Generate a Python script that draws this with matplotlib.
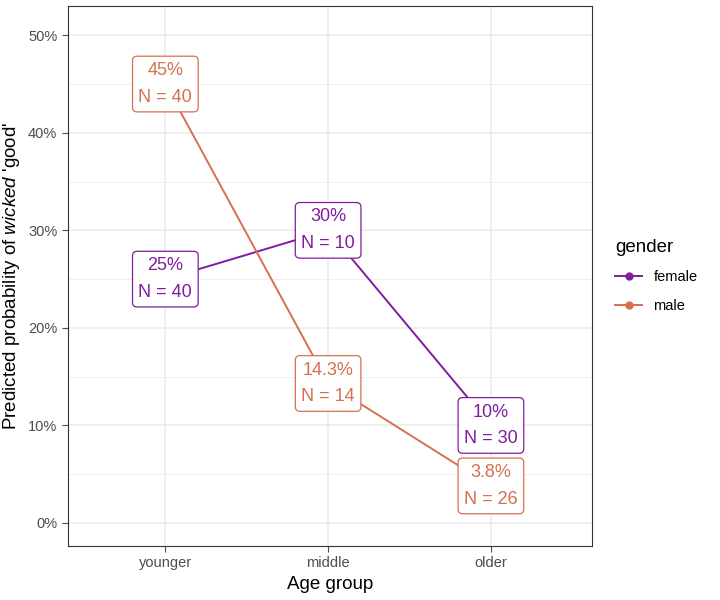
import matplotlib.pyplot as plt
from matplotlib.ticker import FuncFormatter, MultipleLocator

plt.rcParams['font.family'] = ['Liberation Sans', 'DejaVu Sans']
plt.rcParams['mathtext.fontset'] = 'custom'
plt.rcParams['mathtext.rm'] = 'Liberation Sans'
plt.rcParams['mathtext.it'] = 'Liberation Sans:italic'

age_groups = ['younger', 'middle', 'older']
female_prob = [0.25, 0.30, 0.10]
female_n = [40, 10, 30]
female_pct = ['25%', '30%', '10%']
male_prob = [0.45, 0.143, 0.038]
male_n = [40, 14, 26]
male_pct = ['45%', '14.3%', '3.8%']

colors = {'female': '#7f1d9e', 'male': '#d6704f'}

fig = plt.figure(figsize=(7.2, 6), dpi=100)
ax = fig.add_axes([0.094, 0.09, 0.728, 0.90])

x = list(range(1, len(age_groups) + 1))
series = [('female', female_prob, female_n, female_pct),
          ('male', male_prob, male_n, male_pct)]

for name, probs, ns, pcts in series:
    c = colors[name]
    ax.plot(x, probs, color=c, lw=1.4, marker='o', ms=5, label=name, zorder=3)
    for xi, p, n, lab in zip(x, probs, ns, pcts):
        ax.text(xi, p, f'{lab}\nN = {n}', ha='center', va='center',
                color=c, fontsize=13, linespacing=1.75, zorder=5,
                bbox=dict(boxstyle='round,pad=0.33,rounding_size=0.25',
                          fc='white', ec=c, lw=0.9))

ax.set_xlim(0.4, 3.62)
ax.set_ylim(-0.0236, 0.53)
ax.set_xticks(x)
ax.set_xticklabels(age_groups)
ax.yaxis.set_major_locator(MultipleLocator(0.1))
ax.yaxis.set_minor_locator(MultipleLocator(0.05))
ax.yaxis.set_major_formatter(FuncFormatter(lambda v, _: f'{v * 100:.0f}%'))

ax.grid(which='major', color='#ebebeb', lw=1.1, zorder=0)
ax.grid(which='minor', axis='y', color='#ebebeb', lw=0.55, zorder=0)
ax.set_axisbelow(True)
for s in ax.spines.values():
    s.set_color('#333333')
    s.set_linewidth(0.8)
ax.tick_params(which='major', colors='#4d4d4d', labelsize=10.5, length=4, width=0.8)
ax.tick_params(which='minor', length=0)
ax.tick_params(axis='both', labelcolor='#4d4d4d')

ax.set_xlabel('Age group', fontsize=13.5, labelpad=4)
ax.set_ylabel(r"Predicted probability of $\mathit{wicked}$ 'good'", fontsize=13.5, labelpad=4)

leg = ax.legend(title='gender', loc='center left', bbox_to_anchor=(1.02, 0.5),
                frameon=False, fontsize=10.5, title_fontsize=13.5,
                handlelength=1.8, labelspacing=1.0, alignment='left')

fig.savefig('out.png', dpi=100)
